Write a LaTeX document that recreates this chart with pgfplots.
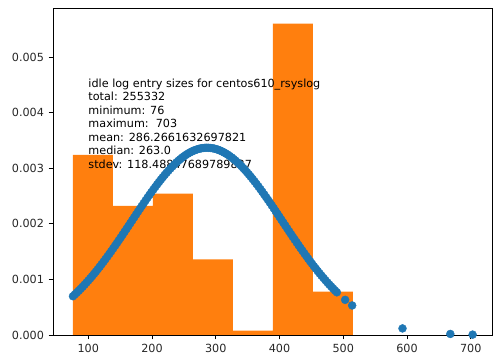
\documentclass[border=0pt]{standalone}
\usepackage{pgfplots}
\pgfplotsset{compat=1.18}
\usepackage{fontspec}
\setmainfont{DejaVu Sans}

\definecolor{mplblue}{HTML}{1F77B4}
\definecolor{mplorange}{HTML}{FF7F0E}

% histogram of entry sizes (density), bin left edges; last row closes the last bin
\pgfplotstableread{
x y
76.00 0.003240
138.71 0.002320
201.43 0.002540
264.14 0.001360
326.86 0.000080
389.57 0.005600
452.29 0.000780
515.00 0.000780
}\histdata

% normal density evaluated at the observed entry sizes
\pgfplotstableread{
x y
76 0.0006973
79 0.0007291
82 0.0007619
85 0.0007956
88 0.0008303
91 0.0008660
94 0.0009026
97 0.0009401
100 0.0009786
103 0.0010180
106 0.0010583
109 0.0010995
112 0.0011416
115 0.0011846
118 0.0012283
121 0.0012729
124 0.0013182
127 0.0013643
130 0.0014111
133 0.0014585
136 0.0015066
139 0.0015552
142 0.0016044
145 0.0016541
148 0.0017043
151 0.0017548
154 0.0018057
157 0.0018569
160 0.0019082
163 0.0019598
166 0.0020115
169 0.0020632
172 0.0021149
175 0.0021664
178 0.0022179
181 0.0022690
184 0.0023199
187 0.0023704
190 0.0024205
193 0.0024700
196 0.0025189
199 0.0025671
202 0.0026146
205 0.0026613
208 0.0027070
211 0.0027518
214 0.0027955
217 0.0028381
220 0.0028795
223 0.0029196
226 0.0029584
229 0.0029958
232 0.0030317
235 0.0030660
238 0.0030988
241 0.0031300
244 0.0031594
247 0.0031870
250 0.0032128
253 0.0032368
256 0.0032588
259 0.0032789
262 0.0032970
265 0.0033131
268 0.0033271
271 0.0033391
274 0.0033489
277 0.0033566
280 0.0033622
283 0.0033656
286 0.0033669
289 0.0033660
292 0.0033630
295 0.0033578
298 0.0033504
301 0.0033410
304 0.0033294
307 0.0033157
310 0.0033000
313 0.0032823
316 0.0032625
319 0.0032408
322 0.0032172
325 0.0031917
328 0.0031644
331 0.0031353
334 0.0031045
337 0.0030720
340 0.0030379
343 0.0030022
346 0.0029651
349 0.0029266
352 0.0028867
355 0.0028455
358 0.0028031
361 0.0027596
364 0.0027150
367 0.0026694
370 0.0026229
373 0.0025756
376 0.0025275
379 0.0024787
382 0.0024293
385 0.0023793
388 0.0023289
391 0.0022781
394 0.0022269
397 0.0021756
400 0.0021240
403 0.0020724
406 0.0020207
409 0.0019690
412 0.0019174
415 0.0018660
418 0.0018148
421 0.0017638
424 0.0017132
427 0.0016630
430 0.0016132
433 0.0015639
436 0.0015152
439 0.0014670
442 0.0014194
445 0.0013725
448 0.0013263
451 0.0012808
454 0.0012362
457 0.0011923
460 0.0011492
463 0.0011069
466 0.0010656
469 0.0010251
472 0.0009855
475 0.0009469
478 0.0009092
481 0.0008724
484 0.0008365
487 0.0008017
490 0.0007678
503 0.0006320
514 0.0005310
593 0.0001180
668 0.0000188
703 0.0000069
}\pdfdata

\begin{document}
\begin{tikzpicture}
\useasboundingbox (0pt,0pt) rectangle (494pt,358pt);
\begin{axis}[
  at={(53pt,23pt)}, anchor=south west,
  scale only axis,
  width=439.6pt, height=327pt,
  xmin=44.65, xmax=734.35,
  ymin=0, ymax=0.00588,
  xtick={100,200,300,400,500,600,700},
  ytick={0,0.001,0.002,0.003,0.004,0.005},
  scaled y ticks=false,
  yticklabel style={/pgf/number format/.cd, fixed, fixed zerofill, precision=3},
  /pgf/number format/assume math mode=true,
  tick label style={font=\fontsize{11.2}{13.4}\selectfont, text=black!85},
  tick align=outside,
  tick pos=left,
  major tick length=4.5pt,
  every tick/.style={black, line width=0.7pt},
  axis line style={black, line width=0.8pt},
  xticklabel shift=1pt,
  yticklabel shift=1pt,
  clip=false,
]
\addplot[ybar interval, fill=mplorange, draw=none] table[x=x, y=y] {\histdata};
\addplot[only marks, mark=*, mark size=4pt, color=mplblue] table[x=x, y=y] {\pdfdata};
\node[anchor=base west, align=left, inner sep=0pt, font=\fontsize{11.2}{13.45}\selectfont, text=black]
  at (axis cs:100,0.003) {idle log entry sizes for centos610\_rsyslog\\total: 255332\\minimum: 76\\maximum:\ \ 703\\mean: 286.2661632697821\\median: 263.0\\stdev: 118.48847689789837};
\end{axis}
\end{tikzpicture}
\end{document}
